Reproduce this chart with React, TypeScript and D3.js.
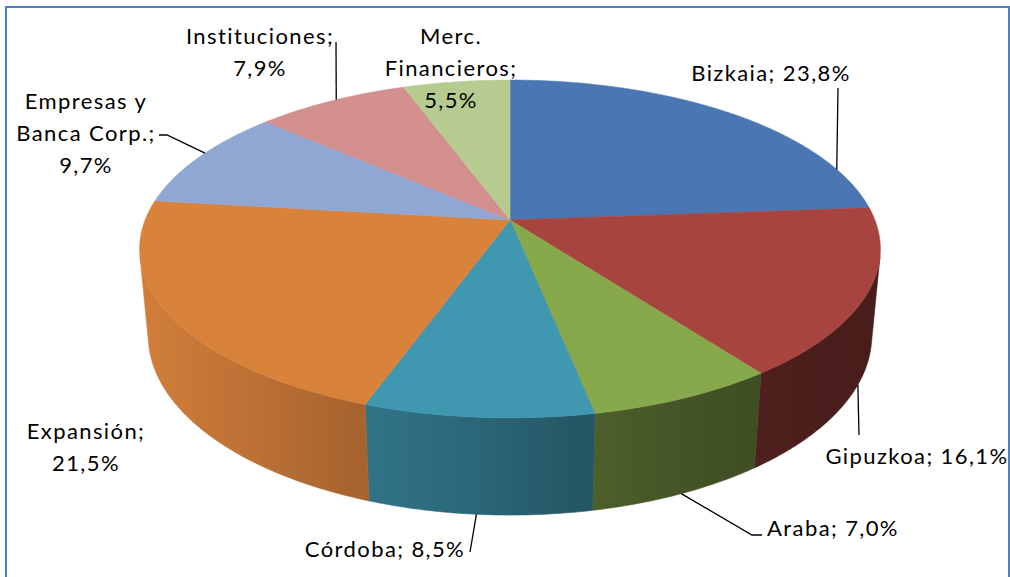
import React from "react";
import * as d3 from "d3";

// ---- data ----
const categories = [
  "Bizkaia",
  "Gipuzkoa",
  "Araba",
  "Córdoba",
  "Expansión",
  "Empresas y Banca Corp.",
  "Instituciones",
  "Merc. Financieros",
];
const values = [23.8, 16.1, 7.0, 8.5, 21.5, 9.7, 7.9, 5.5];
const topColors = [
  "#4A77B3",
  "#A8443F",
  "#88A84C",
  "#3F97B0",
  "#D9823C",
  "#8FA7D2",
  "#D38F8E",
  "#B6CB8F",
];
// how each category name is broken into lines in its label
const categoryLines = [
  ["Bizkaia"],
  ["Gipuzkoa"],
  ["Araba"],
  ["Córdoba"],
  ["Expansión"],
  ["Empresas y", "Banca Corp."],
  ["Instituciones"],
  ["Merc.", "Financieros"],
];
const labelInline = [true, true, true, true, false, false, false, false];

// ---- layout ----
const W = 1010;
const H = 577;
const CX = 510;
const CY = 220;
const FOCAL = 1901;
const DIST = 5.21;
const TILT = (26.7 * Math.PI) / 180;
const HGT = 0.268;

const labelPos: [number, number][] = [
  [771, 72],
  [917, 455],
  [833, 527],
  [385, 548],
  [86, 430],
  [86, 100],
  [260, 35],
  [451, 35],
];
// leader lines: angle on the rim (deg, clockwise from back), rim level, then label-side points
const leaders = [
  { angle: 71, rim: "top", pts: [[838, 88]] },
  { angle: 115, rim: "bottom", pts: [[859, 435]] },
  { angle: 156, rim: "bottom", pts: [[752, 535], [762, 535]] },
  { angle: 184.5, rim: "bottom", pts: [[470, 552]] },
  { angle: 296, rim: "top", pts: [[167, 135], [159, 135]] },
  { angle: 327, rim: "top", pts: [[336, 42]] },
];

function project(theta: number, Y: number): [number, number] {
  const X = Math.sin(theta);
  const Z = -Math.cos(theta);
  const c = Math.cos(TILT);
  const s = Math.sin(TILT);
  const yc = Y * c - Z * s;
  const depth = DIST - (Y * s + Z * c);
  return [CX + (FOCAL * X) / depth, CY - (FOCAL * yc) / depth];
}

function arcPoints(a0: number, a1: number, Y: number) {
  const n = Math.max(2, Math.ceil(((a1 - a0) * 180) / Math.PI / 0.5));
  const pts: [number, number][] = [];
  for (let i = 0; i <= n; i++) pts.push(project(a0 + ((a1 - a0) * i) / n, Y));
  return pts;
}

const fmt = (v: number) => v.toFixed(1).replace(".", ",") + "%";

function shade(color: string, f: number) {
  const c = d3.rgb(color);
  return d3.rgb(c.r * f, c.g * f, c.b * f).formatHex();
}

export default function App() {
  const pie = d3
    .pie<number>()
    .sort(null)
    .value((d) => d)
    .startAngle(0)
    .endAngle(2 * Math.PI);
  const arcs = pie(values);
  const line = d3.line();

  const vmin = Math.acos(-1 / (DIST * Math.cos(TILT)));
  const vmax = 2 * Math.PI - vmin;

  const gradStops = [
    [0, 0.97],
    [0.28, 0.78],
    [0.45, 0.68],
    [0.6, 0.57],
    [0.8, 0.47],
    [1, 0.42],
  ];

  const sides = arcs.map((a, i) => {
    const a0 = Math.max(a.startAngle, vmin);
    const a1 = Math.min(a.endAngle, vmax);
    if (a1 <= a0) return null;
    const top = arcPoints(a0, a1, 0);
    const bot = arcPoints(a0, a1, -HGT).reverse();
    return (
      <path
        key={"s" + i}
        d={(line([...top, ...bot]) as string) + "Z"}
        fill={`url(#side${i})`}
        stroke={`url(#side${i})`}
        strokeWidth={0.6}
      />
    );
  });

  const tops = arcs.map((a, i) => {
    const pts = [project(0, 0), ...arcPoints(a.startAngle, a.endAngle, 0)];
    pts[0] = [CX, CY];
    return (
      <path
        key={"t" + i}
        d={(line(pts) as string) + "Z"}
        fill={topColors[i]}
        stroke={topColors[i]}
        strokeWidth={0.6}
        strokeLinejoin="round"
      />
    );
  });

  const labels = categories.map((cat, i) => {
    const [x, y] = labelPos[i];
    const lines = labelInline[i]
      ? [categoryLines[i].join(" ") + "; " + fmt(values[i])]
      : [
          ...categoryLines[i].slice(0, -1),
          categoryLines[i][categoryLines[i].length - 1] + ";",
          fmt(values[i]),
        ];
    return (
      <text
        key={"l" + i}
        x={x}
        textAnchor="middle"
        fontFamily="Lato, 'Open Sans', sans-serif"
        fontSize={22}
        letterSpacing={1.4}
        fill="#000"
      >
        {lines.map((ln, j) => (
          <tspan key={j} x={x} y={y + j * 32} dominantBaseline="central">
            {ln}
          </tspan>
        ))}
      </text>
    );
  });

  const leaderPaths = leaders.map((l, i) => {
    const p = project((l.angle * Math.PI) / 180, l.rim === "top" ? 0 : -HGT);
    const pts = [p, ...(l.pts as [number, number][])];
    return (
      <path
        key={"ld" + i}
        d={line(pts) as string}
        fill="none"
        stroke="#000"
        strokeWidth={1.3}
      />
    );
  });

  return (
    <svg
      width={W}
      height={H}
      style={{ position: "absolute", left: 0, top: 0 }}
      xmlns="http://www.w3.org/2000/svg"
    >
      <defs>
        {topColors.map((c, i) => (
          <linearGradient
            key={i}
            id={`side${i}`}
            gradientUnits="userSpaceOnUse"
            x1={CX - 370}
            x2={CX + 370}
            y1={0}
            y2={0}
          >
            {gradStops.map(([o, f], k) => (
              <stop key={k} offset={o} stopColor={shade(c, f)} />
            ))}
          </linearGradient>
        ))}
      </defs>
      <rect x={0} y={0} width={W} height={H} fill="#fff" />
      <rect
        x={6}
        y={7}
        width={1003}
        height={600}
        fill="#fff"
        stroke="#4F81BD"
        strokeWidth={2}
      />
      <g>{sides}</g>
      <g>{tops}</g>
      <g>{leaderPaths}</g>
      <g>{labels}</g>
    </svg>
  );
}
